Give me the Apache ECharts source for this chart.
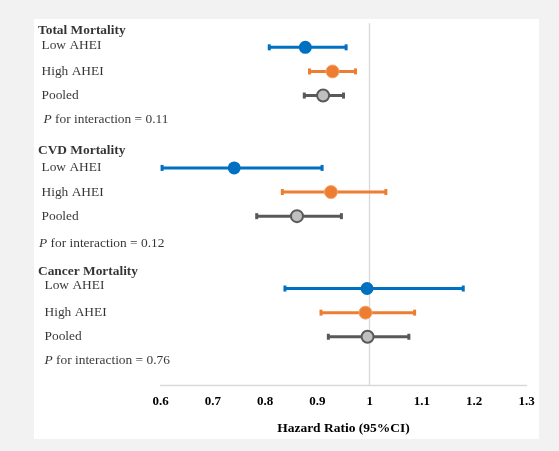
<!DOCTYPE html>
<html>
<head>
<meta charset="utf-8">
<script src="https://cdn.jsdelivr.net/npm/echarts@6/dist/echarts.min.js"></script>
<style>
    html, body { margin: 0; padding: 0; background: #f2f2f2; }
    #panel { position: absolute; left: 34px; top: 19px; width: 505px; height: 420px; background: #fff; }
    #chart { position: absolute; left: 0; top: 0; width: 559px; height: 451px; }
</style>
</head>
<body>
<div id="panel"></div>
<div id="chart"></div>
<script>
// 分组与亚组
const groupNames = ['Total Mortality', 'CVD Mortality', 'Cancer Mortality'];
const subgroupNames = ['Low AHEI', 'High AHEI', 'Pooled'];

// [HR, 95%CI 下限, 95%CI 上限]，按分组顺序
const lowAHEI = [[0.877, 0.808, 0.955], [0.741, 0.603, 0.909], [0.995, 0.838, 1.179]];
const highAHEI = [[0.929, 0.885, 0.973], [0.926, 0.833, 1.031], [0.992, 0.907, 1.086]];
const pooled = [[0.911, 0.875, 0.950], [0.861, 0.784, 0.946], [0.996, 0.921, 1.075]];
const pInteraction = ['0.11', '0.12', '0.76'];

// x 轴刻度
const xTickMin = 0.6;
const xTickMax = 1.3;
const xTickStep = 0.1;

const FONT = '"Liberation Serif", "Times New Roman", serif';
const FONT_SIZE = 13.4;
const ROWS_PER_GROUP = 5;
const TOTAL_ROWS = 15;

const subgroupData = [lowAHEI, highAHEI, pooled];
const subgroupStyles = [
    { line: '#0070C0', fill: '#0070C0', border: '#0070C0', borderWidth: 0, size: 13 },
    { line: '#ED7D31', fill: '#ED7D31', border: '#F4A672', borderWidth: 1, size: 13 },
    { line: '#595959', fill: '#BFBFBF', border: '#595959', borderWidth: 2, size: 12 }
];

function rowOf(g, s) {
    return g * ROWS_PER_GROUP + s + 1;
}

// 误差线
function renderErrorBar(params, api) {
    const lo = api.coord([api.value(0), api.value(2)]);
    const hi = api.coord([api.value(1), api.value(2)]);
    const color = api.visual('color');
    return {
        type: 'group',
        children: [
            { type: 'line', shape: { x1: lo[0], y1: lo[1], x2: hi[0], y2: hi[1] }, style: { stroke: color, lineWidth: 3 } },
            { type: 'rect', shape: { x: lo[0] - 1.5, y: lo[1] - 3, width: 3, height: 6 }, style: { fill: color } },
            { type: 'rect', shape: { x: hi[0] - 1.5, y: hi[1] - 3, width: 3, height: 6 }, style: { fill: color } }
        ]
    };
}

const series = [];

subgroupData.forEach((rows, s) => {
    const st = subgroupStyles[s];
    series.push({
        type: 'custom',
        xAxisIndex: 0,
        yAxisIndex: 0,
        renderItem: renderErrorBar,
        itemStyle: { color: st.line },
        data: rows.map((r, g) => [r[1], r[2], rowOf(g, s)]),
        silent: true,
        z: 2
    });
    series.push({
        type: 'scatter',
        xAxisIndex: 0,
        yAxisIndex: 0,
        symbol: 'circle',
        symbolSize: st.size,
        itemStyle: { color: st.fill, borderColor: st.border, borderWidth: st.borderWidth, opacity: 1 },
        data: rows.map((r, g) => [r[0], rowOf(g, s)]),
        silent: true,
        z: 3
    });
});

// 参考线 HR = 1
series[0].markLine = {
    silent: true,
    symbol: 'none',
    z: 1,
    label: { show: false },
    lineStyle: { color: '#d9d9d9', width: 1.3, type: 'solid' },
    data: [{ xAxis: 1 }]
};

// 左侧文字
const headerLabels = groupNames.map((name, g) => ({
    value: [38, g * ROWS_PER_GROUP + 0.3],
    name: name
}));
const rowLabelX = [41.5, 41.5, 44.5];
const pLabelX = [43.5, 39, 44.5];
const rowLabels = [];
groupNames.forEach((_, g) => {
    subgroupNames.forEach((name, s) => {
        const item = { value: [rowLabelX[g], rowOf(g, s)], name: name };
        // 原图文字略有错位
        if (g === 2 && s === 0) item.label = { offset: [0, -3] };
        if (g === 0 && s === 0) item.label = { offset: [0, -2] };
        rowLabels.push(item);
    });
    rowLabels.push({
        value: [pLabelX[g], rowOf(g, 3)],
        name: '{i|P} for interaction = ' + pInteraction[g],
        label: g === 1 ? { offset: [0, 3] } : {}
    });
});

series.push({
    type: 'scatter',
    xAxisIndex: 1,
    yAxisIndex: 1,
    symbolSize: 0,
    silent: true,
    data: headerLabels,
    label: {
        show: true,
        position: 'right',
        distance: 0,
        formatter: p => p.name,
        color: '#000',
        fontFamily: FONT,
        fontSize: FONT_SIZE,
        fontWeight: 'bold'
    }
});
series.push({
    type: 'scatter',
    xAxisIndex: 1,
    yAxisIndex: 1,
    symbolSize: 0,
    silent: true,
    data: rowLabels,
    label: {
        show: true,
        position: 'right',
        distance: 0,
        formatter: p => p.name,
        color: '#000',
        fontFamily: FONT,
        fontSize: FONT_SIZE,
        rich: {
            i: { fontStyle: 'italic', fontFamily: FONT, fontSize: FONT_SIZE, color: '#000' }
        }
    }
});

const chart = echarts.init(document.getElementById('chart'), null, { renderer: 'canvas' });

const option = {
    backgroundColor: 'transparent',
    animation: false,
    grid: [
        { left: 160.5, right: 32.5, top: 23.2, bottom: 66 },
        { left: 0, right: 0, top: 23.2, bottom: 66 }
    ],
    xAxis: [{
        gridIndex: 0,
        type: 'value',
        position: 'bottom',
        min: xTickMin,
        max: xTickMax,
        interval: xTickStep,
        name: 'Hazard Ratio (95%CI)',
        nameLocation: 'middle',
        nameGap: 37,
        nameTextStyle: { color: '#000', fontFamily: FONT, fontSize: 13.5, fontWeight: 'bold' },
        axisLine: { show: true, onZero: false, lineStyle: { color: '#d9d9d9', width: 1.3 } },
        axisTick: { show: false },
        splitLine: { show: false },
        axisLabel: { color: '#000', fontFamily: FONT, fontSize: 13, fontWeight: 'bold', margin: 10 }
    }, {
        gridIndex: 1,
        type: 'value',
        min: 0,
        max: 559,
        show: false
    }],
    yAxis: [{
        gridIndex: 0,
        type: 'value',
        min: 0,
        max: TOTAL_ROWS,
        inverse: true,
        show: false
    }, {
        gridIndex: 1,
        type: 'value',
        min: 0,
        max: TOTAL_ROWS,
        inverse: true,
        show: false
    }],
    series: series
};

chart.setOption(option);
</script>
</body>
</html>
